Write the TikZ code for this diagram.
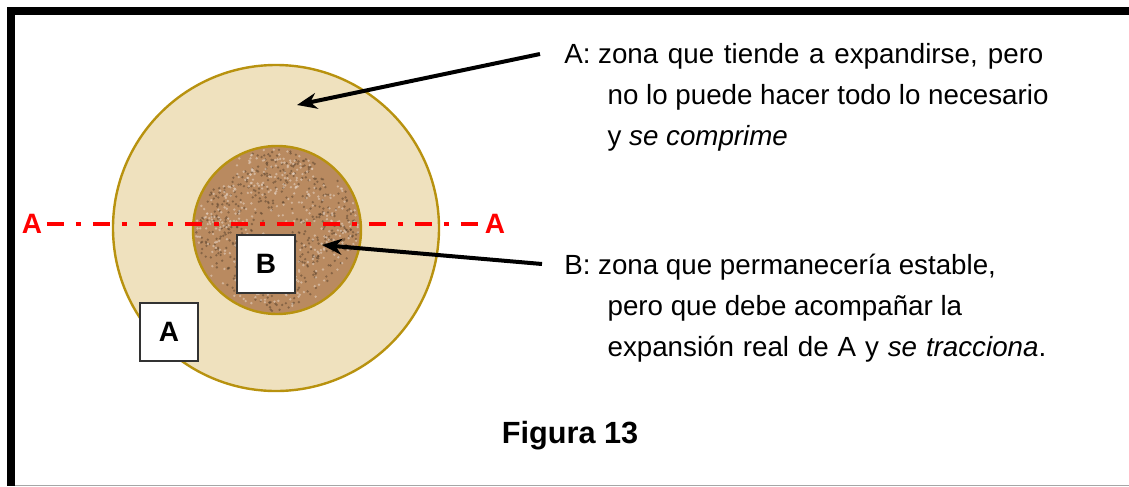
\documentclass[tikz,border=0pt]{standalone}
\usepackage{fontspec}
\setmainfont{Liberation Sans}
\usetikzlibrary{arrows.meta}
\definecolor{ringfill}{HTML}{EFE1BE}
\definecolor{corefill}{HTML}{B98A60}
\definecolor{rim}{HTML}{B8920F}
\tikzstyle{Ring}=[circle, draw=rim, line width=1.8pt, inner sep=0pt]
\tikzstyle{Label}=[draw=black!80, thick, fill=white, minimum size=43.5pt, inner sep=0pt, font=\fontsize{21}{21}\selectfont\bfseries]
\tikzstyle{Note}=[anchor=north west, inner sep=0pt, align=left, font=\fontsize{20.8}{30.75}\selectfont]
\tikzstyle{Line}=[-{Stealth[length=15pt,width=12pt]}, line width=3pt]
\tikzstyle{Cut}=[red, line width=3pt, dash pattern=on 12.75pt off 9pt on 3.75pt off 9pt]
\tikzstyle{CutLabel}=[red, font=\fontsize{21}{21}\selectfont\bfseries]

\begin{document}
\begin{tikzpicture}[x=0.75pt,y=-0.75pt]

    \useasboundingbox (0,0) rectangle (1129,486);

    % frame
    \fill (7,7) rectangle (1129,15);
    \fill (7,7) rectangle (15,486);
    \draw[gray!70, line width=1pt] (15,485.3) -- (1129,485.3);

    % the two zones
    \node[Ring, fill=ringfill, minimum size=244.5pt] (ring) at (276,228) {};
    \node[Ring, fill=corefill, minimum size=126pt] (core) at (277,230) {};

    \begin{scope}[shift={(277,230)}]
        \clip (0,0) circle (82);
        \pgfmathsetseed{13}
        \foreach \k in {1,...,520} {
            \fill[corefill!50!black, opacity=0.55] ({360*rnd}:{82*sqrt(rnd)}) circle (1.3);
        }
        \foreach \k in {1,...,420} {
            \fill[white!60!corefill, opacity=0.6] ({360*rnd}:{82*sqrt(rnd)}) circle (1.3);
        }
    \end{scope}

    % cut line A - A
    \node[CutLabel] (aL) at (32,224) {A};
    \node[CutLabel] (aR) at (495,224) {A};
    \draw[Cut] (aL.east) -- (aR.west);

    \node[Label] (boxB) at (266,264) {B};
    \node[Label] (boxA) at (169,332) {A};

    % notes
    \node[Note] (noteA) at (564,43) {A: \makebox[334pt][s]{zona que tiende a expandirse, pero}\\
        \hspace*{32.5pt}no lo puede hacer todo lo necesario\\
        \hspace*{32.5pt}y \textit{se comprime}};
    \node[Note] (noteB) at (564,254) {B: zona que permanecería estable,\\
        \hspace*{32.5pt}pero que debe acompañar la\\
        \hspace*{32.5pt}\makebox[329pt][s]{expansión real de A y \textit{se tracciona}.}};

    \coordinate (tipA) at (297,105);
    \coordinate (tipB) at (322,245);
    \draw[Line] ([shift={(-24,11)}]noteA.north west) -- (tipA);
    \draw[Line] ([shift={(-22,10)}]noteB.north west) -- (tipB);

    \node[font=\fontsize{23}{23}\selectfont\bfseries, anchor=base] (fig) at (570,443) {Figura 13};

\end{tikzpicture}
\end{document}
